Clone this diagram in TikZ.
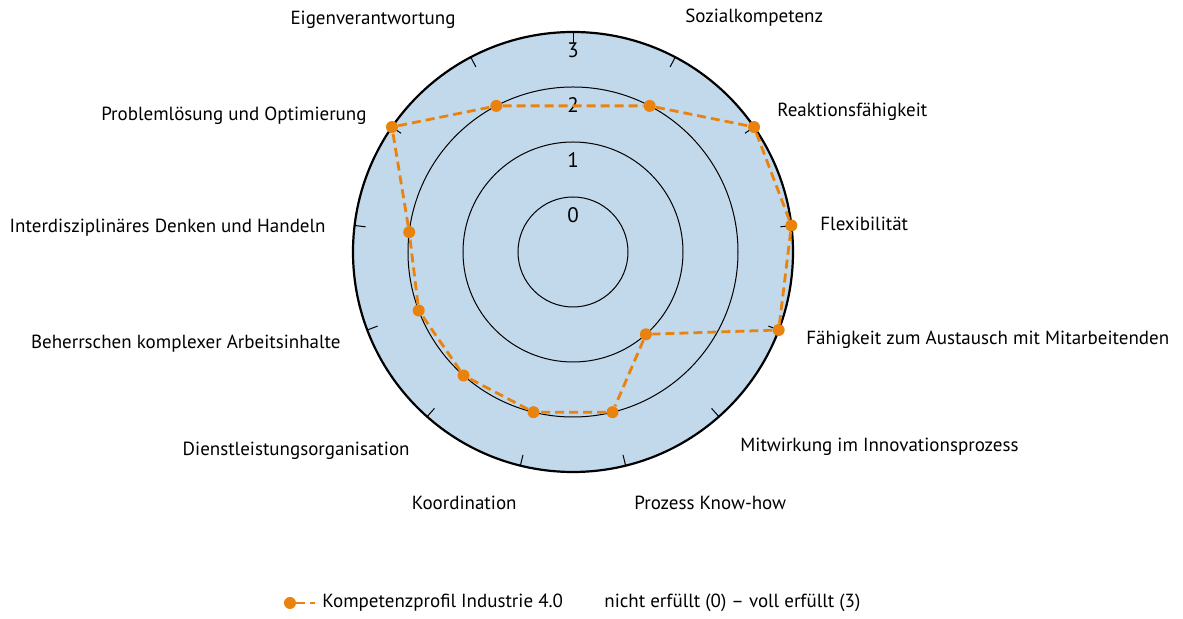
\documentclass[tikz,border=0pt]{standalone}
\usepackage{fontspec}
\setmainfont{PT Sans}
\usepackage{tikz}
\usetikzlibrary{positioning}
\definecolor{radarblau}{RGB}{194,216,235}
\definecolor{profilorange}{RGB}{233,131,14}
\tikzstyle{ring} = [draw=black, line width=0.5pt]
\tikzstyle{wertpunkt} = [circle, fill=profilorange, inner sep=0pt, minimum size=6pt]
\tikzstyle{profil} = [profilorange, line width=1.4pt, dash pattern=on 4.5pt off 2.5pt]
\tikzstyle{achse} = [font=\fontsize{9.5}{11}\selectfont, inner sep=0pt]
\tikzstyle{skala} = [font=\fontsize{10.5}{12}\selectfont, inner sep=0pt]

\begin{document}
\begin{tikzpicture}[x=0.5pt, y=0.5pt]
    \useasboundingbox (-573,-367) rectangle (610,252);

    % Netz
    \fill[radarblau] (0,0) circle [radius=220];
    \draw[ring] (0,0) circle [radius=55];
    \draw[ring] (0,0) circle [radius=110];
    \draw[ring] (0,0) circle [radius=165];
    \draw[line width=1.1pt] (0,0) circle [radius=220];
    \foreach \k in {0,...,12}
        \draw[line width=0.5pt] ({90-\k*360/13}:220) -- ({90-\k*360/13}:209);

    % Skala
    \node (s0) [skala] at (0,37) {0};
    \node (s1) [skala] at (0,92) {1};
    \node (s2) [skala] at (0,147) {2};
    \node (s3) [skala] at (0,202) {3};

    % Werte
    \node (p1) [wertpunkt] at ({90-1*360/13}:165) {};
    \node (p2) [wertpunkt] at ({90-2*360/13}:220) {};
    \node (p3) [wertpunkt] at ({90-3*360/13}:220) {};
    \node (p4) [wertpunkt] at ({90-4*360/13}:220) {};
    \node (p5) [wertpunkt] at ({90-5*360/13}:110) {};
    \node (p6) [wertpunkt] at ({90-6*360/13}:165) {};
    \node (p7) [wertpunkt] at ({90-7*360/13}:165) {};
    \node (p8) [wertpunkt] at ({90-8*360/13}:165) {};
    \node (p9) [wertpunkt] at ({90-9*360/13}:165) {};
    \node (p10) [wertpunkt] at ({90-10*360/13}:165) {};
    \node (p11) [wertpunkt] at ({90-11*360/13}:220) {};
    \node (p12) [wertpunkt] at ({90-12*360/13}:165) {};
    \draw[profil] (p1) -- (p2) -- (p3) -- (p4) -- (p5) -- (p6) -- (p7) -- (p8)
        -- (p9) -- (p10) -- (p11) -- (p12) -- (p1);

    % Beschriftungen
    \node (l1) [achse, anchor=west] at (112,234) {Sozialkompetenz};
    \node (l2) [achse, anchor=west] at (204,140) {Reaktionsfähigkeit};
    \node (l3) [achse, anchor=west] at (247,28) {Flexibilität};
    \node (l4) [achse, anchor=west] at (233,-88) {Fähigkeit zum Austausch mit Mitarbeitenden};
    \node (l5) [achse, anchor=west] at (167,-195) {Mitwirkung im Innovationsprozess};
    \node (l6) [achse, anchor=west] at (61,-251) {Prozess Know-how};
    \node (l7) [achse, anchor=east] at (-56,-251) {Koordination};
    \node (l8) [achse, anchor=east] at (-163,-199) {Dienstleistungsorganisation};
    \node (l9) [achse, anchor=east] at (-232,-92) {Beherrschen komplexer Arbeitsinhalte};
    \node (l10) [achse, anchor=east] at (-247,24) {Interdisziplinäres Denken und Handeln};
    \node (l11) [achse, anchor=east] at (-206,136) {Problemlösung und Optimierung};
    \node (l12) [achse, anchor=east] at (-117,232) {Eigenverantwortung};

    % Legende
    \node (lp) [wertpunkt] at (-283,-351) {};
    \coordinate (le) at (-258,-351);
    \draw[profil] (lp) -- (le);
    \node (lt1) [achse, anchor=west] at (-251,-351) {Kompetenzprofil Industrie 4.0};
    \node (lt2) [achse, anchor=west] at (31,-351) {nicht erfüllt (0) – voll erfüllt (3)};
\end{tikzpicture}
\end{document}
